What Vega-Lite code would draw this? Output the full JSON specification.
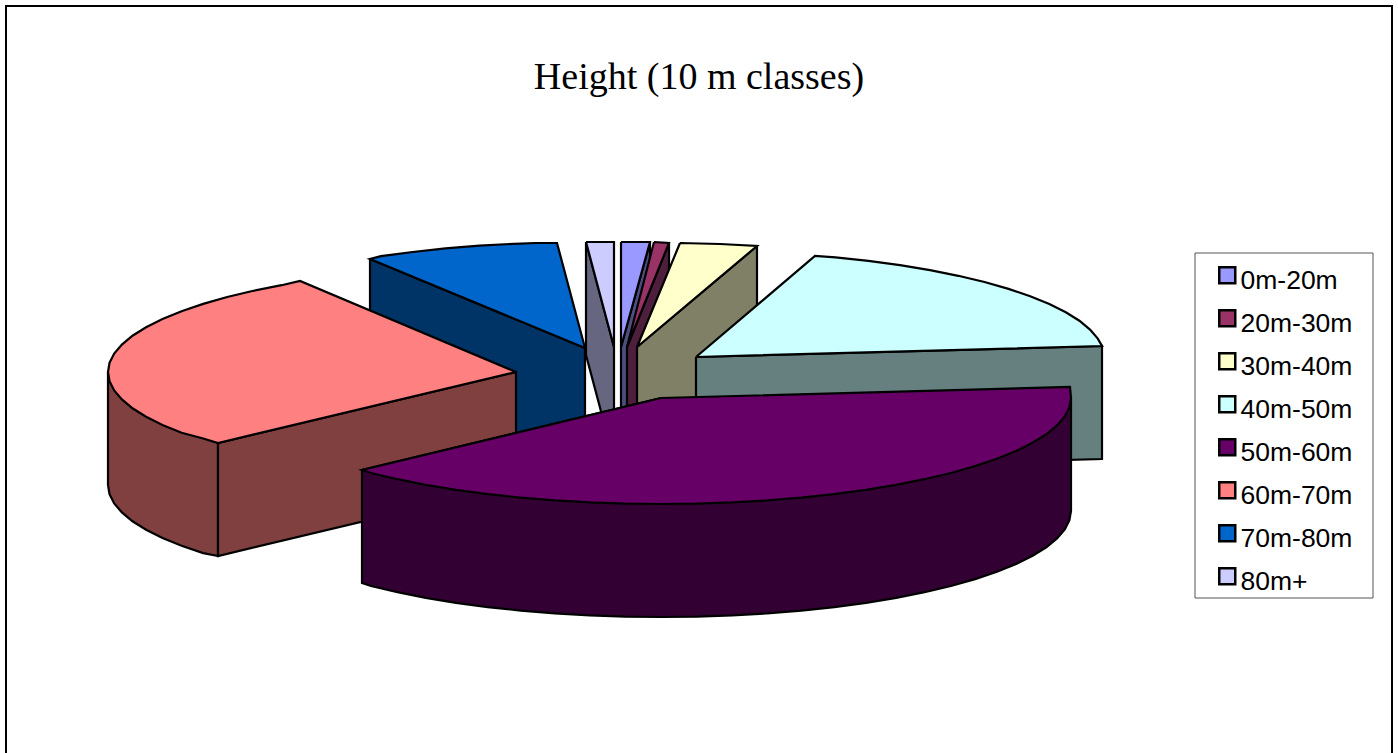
{
"$schema":"https://vega.github.io/schema/vega-lite/v6.json",
"width":1398,"height":753,"autosize":{"type":"none"},"padding":0,
"background":"white",
"config":{"view":{"stroke":null}},
"title":{"text":"Height (10 m classes)","font":"Liberation Serif","fontSize":38,"fontWeight":"normal","color":"black","anchor":"middle","frame":"group","baseline":"alphabetic","offset":0,"dy":127},
"datasets":{
"frame":[{"i":1,"x":6,"y":753},{"i":2,"x":6,"y":6},{"i":3,"x":1392,"y":6},{"i":4,"x":1392,"y":753}],
"box":[{"x":1195,"x2":1373,"y":253,"y2":598}],
"pie":[
{"part":"a1","segment":"80m+ side","x":586,"y":242},{"part":"a1","segment":"80m+ side","x":614,"y":347},{"part":"a1","segment":"80m+ side","x":614,"y":460},{"part":"a1","segment":"80m+ side","x":586,"y":355},{"part":"a1","segment":"80m+ side","x":586,"y":242},
{"part":"a2","segment":"80m+","x":586,"y":242},{"part":"a2","segment":"80m+","x":614,"y":242},{"part":"a2","segment":"80m+","x":614,"y":347},{"part":"a2","segment":"80m+","x":586,"y":242},
{"part":"b1","segment":"0m-20m side","x":650,"y":242},{"part":"b1","segment":"0m-20m side","x":621,"y":347},{"part":"b1","segment":"0m-20m side","x":621,"y":460},{"part":"b1","segment":"0m-20m side","x":650,"y":355},{"part":"b1","segment":"0m-20m side","x":650,"y":242},
{"part":"b2","segment":"0m-20m","x":621,"y":242},{"part":"b2","segment":"0m-20m","x":650,"y":242},{"part":"b2","segment":"0m-20m","x":621,"y":347},{"part":"b2","segment":"0m-20m","x":621,"y":242},
{"part":"c1","segment":"20m-30m side","x":669,"y":243},{"part":"c1","segment":"20m-30m side","x":627,"y":347},{"part":"c1","segment":"20m-30m side","x":627,"y":460},{"part":"c1","segment":"20m-30m side","x":669,"y":356},{"part":"c1","segment":"20m-30m side","x":669,"y":243},
{"part":"c2","segment":"20m-30m","x":654,"y":242},{"part":"c2","segment":"20m-30m","x":669,"y":243},{"part":"c2","segment":"20m-30m","x":627,"y":347},{"part":"c2","segment":"20m-30m","x":654,"y":242},
{"part":"d1","segment":"30m-40m side","x":757,"y":246},{"part":"d1","segment":"30m-40m side","x":637,"y":347},{"part":"d1","segment":"30m-40m side","x":637,"y":460},{"part":"d1","segment":"30m-40m side","x":757,"y":359},{"part":"d1","segment":"30m-40m side","x":757,"y":246},
{"part":"d2","segment":"30m-40m","x":680,"y":243},{"part":"d2","segment":"30m-40m","x":720,"y":244},{"part":"d2","segment":"30m-40m","x":757,"y":246},{"part":"d2","segment":"30m-40m","x":637,"y":347},{"part":"d2","segment":"30m-40m","x":680,"y":243},
{"part":"e1","segment":"40m-50m side","x":696,"y":357},{"part":"e1","segment":"40m-50m side","x":1102,"y":346},{"part":"e1","segment":"40m-50m side","x":1102,"y":459},{"part":"e1","segment":"40m-50m side","x":696,"y":470},{"part":"e1","segment":"40m-50m side","x":696,"y":357},
{"part":"e2","segment":"40m-50m","x":696,"y":357},{"part":"e2","segment":"40m-50m","x":815,"y":256},{"part":"e2","segment":"40m-50m","x":835.5,"y":257.4},{"part":"e2","segment":"40m-50m","x":868.4,"y":260.9},{"part":"e2","segment":"40m-50m","x":900,"y":265.2},{"part":"e2","segment":"40m-50m","x":930,"y":270.2},{"part":"e2","segment":"40m-50m","x":958.3,"y":275.8},{"part":"e2","segment":"40m-50m","x":984.5,"y":282},{"part":"e2","segment":"40m-50m","x":1008.5,"y":288.9},{"part":"e2","segment":"40m-50m","x":1030.2,"y":296.2},{"part":"e2","segment":"40m-50m","x":1049.3,"y":304},{"part":"e2","segment":"40m-50m","x":1065.8,"y":312.2},{"part":"e2","segment":"40m-50m","x":1079.4,"y":320.7},{"part":"e2","segment":"40m-50m","x":1090,"y":329.6},{"part":"e2","segment":"40m-50m","x":1097.8,"y":338.6},{"part":"e2","segment":"40m-50m","x":1102,"y":346},{"part":"e2","segment":"40m-50m","x":696,"y":357},
{"part":"g1","segment":"70m-80m side","x":370,"y":259},{"part":"g1","segment":"70m-80m side","x":585,"y":348},{"part":"g1","segment":"70m-80m side","x":585,"y":461},{"part":"g1","segment":"70m-80m side","x":370,"y":372},{"part":"g1","segment":"70m-80m side","x":370,"y":259},
{"part":"g2","segment":"70m-80m","x":585,"y":348},{"part":"g2","segment":"70m-80m","x":370,"y":259},{"part":"g2","segment":"70m-80m","x":381,"y":256.2},{"part":"g2","segment":"70m-80m","x":412.6,"y":252},{"part":"g2","segment":"70m-80m","x":445.5,"y":248.4},{"part":"g2","segment":"70m-80m","x":479.4,"y":245.6},{"part":"g2","segment":"70m-80m","x":514.2,"y":243.8},{"part":"g2","segment":"70m-80m","x":535.3,"y":243},{"part":"g2","segment":"70m-80m","x":557,"y":243},{"part":"g2","segment":"70m-80m","x":585,"y":348},
{"part":"h1","segment":"60m-70m side","x":108,"y":372},{"part":"h1","segment":"60m-70m side","x":108,"y":485},{"part":"h1","segment":"60m-70m side","x":109.5,"y":494.2},{"part":"h1","segment":"60m-70m side","x":114.2,"y":503.4},{"part":"h1","segment":"60m-70m side","x":121.9,"y":512.4},{"part":"h1","segment":"60m-70m side","x":132.5,"y":521.3},{"part":"h1","segment":"60m-70m side","x":146.1,"y":529.8},{"part":"h1","segment":"60m-70m side","x":162.5,"y":538},{"part":"h1","segment":"60m-70m side","x":181.6,"y":545.8},{"part":"h1","segment":"60m-70m side","x":203.2,"y":553.1},{"part":"h1","segment":"60m-70m side","x":218,"y":556},{"part":"h1","segment":"60m-70m side","x":218,"y":443},{"part":"h1","segment":"60m-70m side","x":108,"y":372},
{"part":"h2","segment":"60m-70m side","x":218,"y":443},{"part":"h2","segment":"60m-70m side","x":516,"y":372},{"part":"h2","segment":"60m-70m side","x":516,"y":485},{"part":"h2","segment":"60m-70m side","x":218,"y":556},{"part":"h2","segment":"60m-70m side","x":218,"y":443},
{"part":"h3","segment":"60m-70m","x":516,"y":372},{"part":"h3","segment":"60m-70m","x":218,"y":443},{"part":"h3","segment":"60m-70m","x":203.2,"y":438.5},{"part":"h3","segment":"60m-70m","x":181.6,"y":432.8},{"part":"h3","segment":"60m-70m","x":162.5,"y":425},{"part":"h3","segment":"60m-70m","x":146.1,"y":416.8},{"part":"h3","segment":"60m-70m","x":132.5,"y":408.3},{"part":"h3","segment":"60m-70m","x":121.9,"y":399.4},{"part":"h3","segment":"60m-70m","x":114.2,"y":390.4},{"part":"h3","segment":"60m-70m","x":109.5,"y":381.2},{"part":"h3","segment":"60m-70m","x":108,"y":372},{"part":"h3","segment":"60m-70m","x":109.5,"y":362.8},{"part":"h3","segment":"60m-70m","x":114.2,"y":353.6},{"part":"h3","segment":"60m-70m","x":121.9,"y":344.6},{"part":"h3","segment":"60m-70m","x":132.5,"y":335.7},{"part":"h3","segment":"60m-70m","x":146.1,"y":327.2},{"part":"h3","segment":"60m-70m","x":162.5,"y":319},{"part":"h3","segment":"60m-70m","x":181.6,"y":311.2},{"part":"h3","segment":"60m-70m","x":203.2,"y":303.9},{"part":"h3","segment":"60m-70m","x":227.2,"y":297},{"part":"h3","segment":"60m-70m","x":253.4,"y":290.8},{"part":"h3","segment":"60m-70m","x":281.6,"y":285.2},{"part":"h3","segment":"60m-70m","x":300,"y":281},{"part":"h3","segment":"60m-70m","x":516,"y":372},
{"part":"i1","segment":"50m-60m side","x":362,"y":470},{"part":"i1","segment":"50m-60m side","x":362,"y":583},{"part":"i1","segment":"50m-60m side","x":371,"y":586},{"part":"i1","segment":"50m-60m side","x":397.5,"y":592.2},{"part":"i1","segment":"50m-60m side","x":425.8,"y":597.8},{"part":"i1","segment":"50m-60m side","x":456,"y":602.8},{"part":"i1","segment":"50m-60m side","x":487.7,"y":607.1},{"part":"i1","segment":"50m-60m side","x":520.8,"y":610.6},{"part":"i1","segment":"50m-60m side","x":554.9,"y":613.4},{"part":"i1","segment":"50m-60m side","x":589.8,"y":615.4},{"part":"i1","segment":"50m-60m side","x":625.3,"y":616.6},{"part":"i1","segment":"50m-60m side","x":661,"y":617},{"part":"i1","segment":"50m-60m side","x":696.7,"y":616.6},{"part":"i1","segment":"50m-60m side","x":732.2,"y":615.4},{"part":"i1","segment":"50m-60m side","x":767.1,"y":613.4},{"part":"i1","segment":"50m-60m side","x":801.2,"y":610.6},{"part":"i1","segment":"50m-60m side","x":834.3,"y":607.1},{"part":"i1","segment":"50m-60m side","x":866,"y":602.8},{"part":"i1","segment":"50m-60m side","x":896.2,"y":597.8},{"part":"i1","segment":"50m-60m side","x":924.5,"y":592.2},{"part":"i1","segment":"50m-60m side","x":950.9,"y":586},{"part":"i1","segment":"50m-60m side","x":975.1,"y":579.1},{"part":"i1","segment":"50m-60m side","x":996.9,"y":571.8},{"part":"i1","segment":"50m-60m side","x":1016.1,"y":564},{"part":"i1","segment":"50m-60m side","x":1032.6,"y":555.8},{"part":"i1","segment":"50m-60m side","x":1046.3,"y":547.3},{"part":"i1","segment":"50m-60m side","x":1057,"y":538.4},{"part":"i1","segment":"50m-60m side","x":1064.8,"y":529.4},{"part":"i1","segment":"50m-60m side","x":1069.4,"y":520.2},{"part":"i1","segment":"50m-60m side","x":1071,"y":511},{"part":"i1","segment":"50m-60m side","x":1071,"y":398},{"part":"i1","segment":"50m-60m side","x":661,"y":398},{"part":"i1","segment":"50m-60m side","x":362,"y":470},
{"part":"i2","segment":"50m-60m","x":661,"y":398},{"part":"i2","segment":"50m-60m","x":362,"y":470},{"part":"i2","segment":"50m-60m","x":371,"y":473},{"part":"i2","segment":"50m-60m","x":397.5,"y":479.2},{"part":"i2","segment":"50m-60m","x":425.8,"y":484.8},{"part":"i2","segment":"50m-60m","x":456,"y":489.8},{"part":"i2","segment":"50m-60m","x":487.7,"y":494.1},{"part":"i2","segment":"50m-60m","x":520.8,"y":497.6},{"part":"i2","segment":"50m-60m","x":554.9,"y":500.4},{"part":"i2","segment":"50m-60m","x":589.8,"y":502.4},{"part":"i2","segment":"50m-60m","x":625.3,"y":503.6},{"part":"i2","segment":"50m-60m","x":661,"y":504},{"part":"i2","segment":"50m-60m","x":696.7,"y":503.6},{"part":"i2","segment":"50m-60m","x":732.2,"y":502.4},{"part":"i2","segment":"50m-60m","x":767.1,"y":500.4},{"part":"i2","segment":"50m-60m","x":801.2,"y":497.6},{"part":"i2","segment":"50m-60m","x":834.3,"y":494.1},{"part":"i2","segment":"50m-60m","x":866,"y":489.8},{"part":"i2","segment":"50m-60m","x":896.2,"y":484.8},{"part":"i2","segment":"50m-60m","x":924.5,"y":479.2},{"part":"i2","segment":"50m-60m","x":950.9,"y":473},{"part":"i2","segment":"50m-60m","x":975.1,"y":466.1},{"part":"i2","segment":"50m-60m","x":996.9,"y":458.8},{"part":"i2","segment":"50m-60m","x":1016.1,"y":451},{"part":"i2","segment":"50m-60m","x":1032.6,"y":442.8},{"part":"i2","segment":"50m-60m","x":1046.3,"y":434.3},{"part":"i2","segment":"50m-60m","x":1057,"y":425.4},{"part":"i2","segment":"50m-60m","x":1064.8,"y":416.4},{"part":"i2","segment":"50m-60m","x":1069.4,"y":407.2},{"part":"i2","segment":"50m-60m","x":1071,"y":398},{"part":"i2","segment":"50m-60m","x":1070,"y":387},{"part":"i2","segment":"50m-60m","x":661,"y":398}
]},
"layer":[
{"data":{"name":"frame"},"mark":{"type":"line","stroke":"black","strokeWidth":2},
 "encoding":{"x":{"field":"x","type":"quantitative","axis":null,"scale":{"domain":[0,1398],"nice":false,"zero":false}},
 "y":{"field":"y","type":"quantitative","axis":null,"scale":{"domain":[753,0],"nice":false,"zero":false}},
 "order":{"field":"i","type":"quantitative"}}},
{"data":{"name":"box"},"mark":{"type":"rect","fill":"white","stroke":"#555555","strokeWidth":1},
 "encoding":{"x":{"field":"x","type":"quantitative","axis":null},"x2":{"field":"x2"},
 "y":{"field":"y","type":"quantitative","axis":null},"y2":{"field":"y2"}}},
{"data":{"name":"pie"},"mark":{"type":"line","filled":true,"stroke":"black","strokeWidth":2.2,"strokeJoin":"miter","opacity":1,"sort":null},
 "encoding":{"x":{"field":"x","type":"quantitative","axis":null},
 "y":{"field":"y","type":"quantitative","axis":null},
 "detail":{"field":"part"},
 "order":{"value":null},
 "fill":{"field":"segment","type":"nominal",
  "scale":{"domain":["0m-20m","20m-30m","30m-40m","40m-50m","50m-60m","60m-70m","70m-80m","80m+","0m-20m side","20m-30m side","30m-40m side","40m-50m side","50m-60m side","60m-70m side","70m-80m side","80m+ side"],
  "range":["#9999FF","#993366","#FFFFCC","#CCFFFF","#660066","#FF8080","#0066CC","#CCCCFF","#4D4D80","#4D1F3D","#808066","#668080","#330033","#804040","#003366","#666680"]},
  "legend":{"title":null,"orient":"none","legendX":1214,"legendY":262,"padding":0,
   "values":["0m-20m","20m-30m","30m-40m","40m-50m","50m-60m","60m-70m","70m-80m","80m+"],
   "symbolType":"square","symbolSize":256,"symbolStrokeColor":"black","symbolStrokeWidth":2.5,
   "labelFont":"Liberation Sans","labelFontSize":26.5,"labelColor":"black","labelOffset":0,"labelLimit":300,"rowPadding":10,
   "encoding":{"labels":{"dy":{"value":6}}}}}}}
]
}
